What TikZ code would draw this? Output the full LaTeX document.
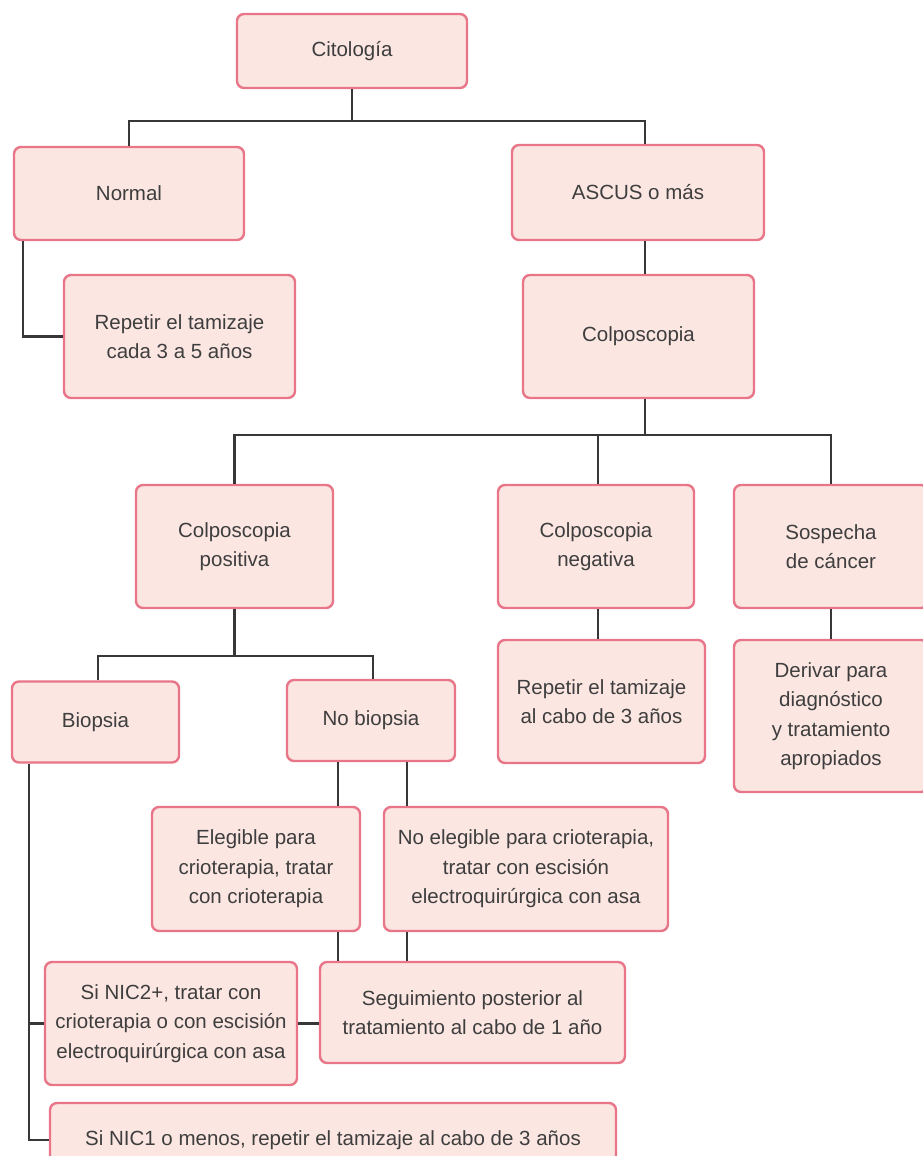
\documentclass[tikz,border=0pt]{standalone}
\usepackage{fontspec}
\setmainfont{Liberation Sans}
\definecolor{boxFill}{RGB}{251,230,226}
\definecolor{boxLine}{RGB}{232,118,136}
\definecolor{linkGray}{RGB}{55,55,55}
\definecolor{textGray}{RGB}{62,62,62}
\begin{document}
\begin{tikzpicture}[x=1pt, y=-1pt,
    boxStyle/.style={draw=boxLine, fill=boxFill, line width=2.4pt, rounded corners=7pt,
        align=center, text=textGray, inner sep=0pt,
        font=\fontsize{20.5}{29.5}\selectfont},
    linkStyle/.style={draw=linkGray, line width=2.4pt}]
    \useasboundingbox (0,0) rectangle (923,1156);

    % Citologia and first split
    \node[boxStyle, minimum width=230, minimum height=74] (cito) at (352, 51) {Citología};
    \node[boxStyle, minimum width=230, minimum height=93] (normal) at (129, 193.5) {Normal};
    \node[boxStyle, minimum width=231, minimum height=123] (repCinco) at (179.5, 336.5) {Repetir el tamizaje\\cada 3 a 5 años};
    \node[boxStyle, minimum width=252, minimum height=95] (ascus) at (638, 192.5) {ASCUS o más};
    \node[boxStyle, minimum width=231, minimum height=123] (colpo) at (638.5, 336.5) {Colposcopia};

    % Colposcopia results
    \node[boxStyle, minimum width=197, minimum height=123] (colpoPos) at (234.5, 546.5) {Colposcopia\\positiva};
    \node[boxStyle, minimum width=196, minimum height=123] (colpoNeg) at (596, 546.5) {Colposcopia\\negativa};
    \node[boxStyle, minimum width=194, minimum height=123] (sospecha) at (831, 546.5) {Sospecha\\de cáncer};
    \node[boxStyle, minimum width=207, minimum height=123] (repTres) at (601.5, 701.5) {Repetir el tamizaje\\al cabo de 3 años};
    \node[boxStyle, minimum width=194, minimum height=152] (derivar) at (831, 716) {Derivar para\\diagnóstico\\y tratamiento\\apropiados};

    % Positive branch
    \node[boxStyle, minimum width=167, minimum height=81] (biopsia) at (95.5, 722) {Biopsia};
    \node[boxStyle, minimum width=168, minimum height=81] (noBiopsia) at (371, 720.5) {No biopsia};
    \node[boxStyle, minimum width=208, minimum height=124] (elegible) at (256, 869) {Elegible para\\crioterapia, tratar\\con crioterapia};
    \node[boxStyle, minimum width=284, minimum height=124] (noElegible) at (526, 869) {No elegible para crioterapia,\\tratar con escisión\\electroquirúrgica con asa};
    \node[boxStyle, minimum width=252, minimum height=123] (nicDos) at (171, 1023.5) {Si NIC2+, tratar con\\crioterapia o con escisión\\electroquirúrgica con asa};
    \node[boxStyle, minimum width=305, minimum height=101] (seguim) at (472.5, 1012.5) {Seguimiento posterior al\\tratamiento al cabo de 1 año};
    \node[boxStyle, minimum width=566, minimum height=74] (nicUno) at (333, 1140) {Si NIC1 o menos, repetir el tamizaje al cabo de 3 años};

    % connectors
    \draw[linkStyle] (cito.south) -- ++(0,32) coordinate (citoBar);
    \draw[linkStyle] (normal.north) |- (citoBar) -| ([xshift=7]ascus.north);
    \draw[linkStyle] ([xshift=-106]normal.south) |- (repCinco.west);
    \draw[linkStyle] ([xshift=7]ascus.south) -- ([xshift=6.5]colpo.north);
    \draw[linkStyle] ([xshift=6.5]colpo.south) -- ++(0,36) coordinate (colpoBar);
    \draw[linkStyle] (colpoPos.north) |- (colpoBar) -| (sospecha.north);
    \draw[linkStyle] ([xshift=2]colpoNeg.north) -- ([xshift=2]colpoNeg.north |- colpoBar);
    \draw[linkStyle] ([xshift=2]colpoNeg.south) -- ([xshift=2]colpoNeg.south |- repTres.north);
    \draw[linkStyle] (sospecha.south) -- (derivar.north);
    \draw[linkStyle] (colpoPos.south) -- ++(0,47) coordinate (posBar);
    \draw[linkStyle] ([xshift=2.5]biopsia.north) |- (posBar) -| ([xshift=2]noBiopsia.north);
    \draw[linkStyle] ([xshift=-33]noBiopsia.south) coordinate (nbLeft) -- (nbLeft |- elegible.north);
    \draw[linkStyle] ([xshift=36]noBiopsia.south) coordinate (nbRight) -- (nbRight |- noElegible.north);
    \draw[linkStyle] (elegible.south -| nbLeft) -- (seguim.north -| nbLeft);
    \draw[linkStyle] (noElegible.south -| nbRight) -- (seguim.north -| nbRight);
    \draw[linkStyle] ([xshift=-66.5]biopsia.south) coordinate (spine) |- (nicUno.west);
    \draw[linkStyle] (spine |- nicDos.west) -- (nicDos.west);
    \draw[linkStyle] (nicDos.east) -- (nicDos.east -| seguim.west);
\end{tikzpicture}
\end{document}
